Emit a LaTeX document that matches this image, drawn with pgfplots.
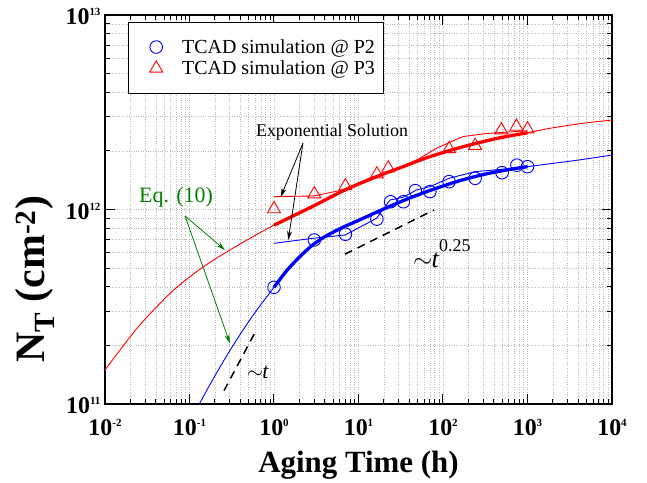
\documentclass[border=0pt]{standalone}
\usepackage{fontspec}
\setmainfont{Liberation Serif}
\usepackage{pgfplots}
\pgfplotsset{compat=1.18}
\usetikzlibrary{arrows.meta}
\definecolor{eqgreen}{rgb}{0,0.5,0}
% bold tick label 10^n in the text font
\newcommand{\tl}[1]{{\fontsize{24}{24}\selectfont\bfseries 10\raisebox{9bp}{\fontsize{11}{11}\selectfont #1}}}

\begin{document}
\begin{tikzpicture}
\useasboundingbox (-105bp,-79bp) rectangle (542bp,404bp);
\begin{axis}[
  at={(0,0)}, anchor=south west,
  scale only axis, width=507bp, height=389bp,
  xmode=log, ymode=log,
  xmin=1e-2, xmax=1e4, ymin=1e11, ymax=1e13,
  xtick={1e-2,1e-1,1e0,1e1,1e2,1e3,1e4},
  xticklabels={\tl{-2},\tl{-1},\tl{0},\tl{1},\tl{2},\tl{3},\tl{4}},
  minor xtick={0.02,0.03,0.04,0.05,0.06,0.07,0.08,0.09,
    0.2,0.3,0.4,0.5,0.6,0.7,0.8,0.9,2,3,4,5,6,7,8,9,
    20,30,40,50,60,70,80,90,200,300,400,500,600,700,800,900,
    2000,3000,4000,5000,6000,7000,8000,9000},
  ytick={1e11,1e12,1e13},
  yticklabels={\tl{11},\tl{12},\tl{13}},
  minor ytick={2e11,3e11,4e11,5e11,6e11,7e11,8e11,9e11,
    2e12,3e12,4e12,5e12,6e12,7e12,8e12,9e12},
  xticklabel style={yshift=-12bp},
  yticklabel style={xshift=-1bp, yshift=-2bp},
  tick align=inside, major tick length=10bp, minor tick length=5bp,
  every tick/.append style={black, line width=1bp},
  axis line style={line width=1.5bp},
  grid=both,
  major grid style={dotted, gray!55, line width=0.7bp},
  minor grid style={dotted, gray!55, line width=0.7bp},
  xlabel={\textbf{Aging Time (h)}},
  xlabel style={font=\fontsize{31}{31}\selectfont, at={(axis description cs:0.5,-0.157)}, anchor=center},
  ylabel={\textbf{N\textsubscript{T} (cm\textsuperscript{-2})}},
  ylabel style={font=\fontsize{42}{42}\selectfont, at={(axis description cs:-0.138,0.32)}, anchor=center},
  legend style={at={(rel axis cs:0.045,0.982)}, anchor=north west, draw=black, line width=0.8bp,
    font=\fontsize{20}{20}\selectfont, inner xsep=6bp, inner ysep=15bp, row sep=2bp,
    cells={anchor=west, inner ysep=0bp, inner xsep=4bp}},
  legend image code/.code={\path[draw=none] (0bp,0bp) -- (46bp,0bp); \draw[#1] plot coordinates {(22bp,0bp)};},
]
% TCAD simulation points
\addplot[only marks, mark=o, mark size=6.3bp, blue, mark options={line width=0.9bp}] coordinates {
  (1,3.98e11) (3,6.97e11) (7,7.46e11) (16.5,8.92e11) (24,1.096e12) (34,1.096e12)
  (47,1.25e12) (70,1.236e12) (118,1.39e12) (240,1.446e12) (500,1.546e12)
  (750,1.69e12) (1000,1.66e12)};
\addlegendentry{TCAD simulation @ P2}
\addplot[only marks, mark=triangle, mark size=7.5bp, red, mark options={line width=0.9bp}] coordinates {
  (1,1.006e12) (3,1.20e12) (7,1.32e12) (16.5,1.52e12) (22.5,1.63e12) (118,2.05e12)
  (240,2.13e12) (490,2.56e12) (740,2.67e12) (1000,2.59e12)};
\addlegendentry{TCAD simulation @ P3}

% Eq. (10), thin
\addplot[red, line width=0.9bp, smooth, forget plot] coordinates {
  (0.01,1.496e11) (0.0248,2.495e11) (0.0615,3.77e11) (0.139,5.0e11) (0.301,6.19e11)
  (0.973,8.26e11) (2.90,1.04e12) (6.92,1.26e12) (16.4,1.475e12) (33.6,1.66e12)
  (70.2,1.87e12) (172,2.10e12) (436,2.32e12) (988,2.48e12) (2000,2.63e12)
  (5000,2.79e12) (10000,2.88e12)};
\addplot[blue, line width=0.9bp, smooth, forget plot] coordinates {
  (0.1306,1e11) (0.2,1.396e11) (0.316,1.95e11) (0.562,2.85e11) (1,3.98e11)
  (1.41,4.84e11) (2,5.69e11) (2.82,6.53e11) (3.98,7.24e11) (6.31,8.04e11)
  (10,8.79e11) (20,1.007e12) (39.8,1.143e12) (79.4,1.276e12) (158,1.406e12)
  (316,1.52e12) (631,1.61e12) (1000,1.66e12) (3981,1.795e12) (10000,1.905e12)};

% exponential solution, thin
\addplot[red, line width=0.9bp, forget plot] coordinates {
  (1,1.164e12) (2.9,1.173e12) (6.56,1.26e12) (14.9,1.475e12) (23.6,1.565e12)
  (49.2,1.80e12) (84.9,2.07e12) (172,2.37e12) (332,2.46e12) (1000,2.54e12)};
\addplot[blue, line width=0.9bp, forget plot] coordinates {
  (1,6.70e11) (2.9,7.11e11) (6.92,7.39e11) (16.4,9.01e11) (23.6,1.119e12)
  (33.6,1.155e12) (48.6,1.26e12) (70.2,1.31e12) (118,1.446e12) (239,1.565e12)
  (432,1.60e12) (1000,1.655e12)};

% fitted, thick
\addplot[red, line width=3.3bp, smooth, forget plot] coordinates {
  (1,8.3e11) (2.9,1.04e12) (6.92,1.26e12) (16.4,1.475e12) (33.6,1.66e12)
  (70.2,1.87e12) (172,2.10e12) (436,2.32e12) (1000,2.48e12)};
\addplot[blue, line width=3.3bp, smooth, forget plot] coordinates {
  (1,3.98e11) (1.41,4.84e11) (2,5.69e11) (2.82,6.53e11) (3.98,7.24e11) (6.31,8.04e11)
  (10,8.79e11) (20,1.007e12) (39.8,1.143e12) (79.4,1.276e12) (158,1.406e12)
  (316,1.52e12) (631,1.61e12) (1000,1.66e12)};

% slope guides
\addplot[black, dash pattern=on 8bp off 6bp, line width=1.5bp, forget plot] coordinates {
  (6.92,5.89e11) (78.2,9.94e11)};
\addplot[black, dash pattern=on 8bp off 6bp, line width=1.5bp, forget plot] coordinates {
  (0.256,1.17e11) (0.612,2.38e11)};

% annotations
\node[font=\fontsize{18}{18}\selectfont] at (axis cs:4.86,2.51e12) {Exponential Solution};
\draw[-{Stealth[length=9bp,width=5bp]}, line width=0.8bp] (axis cs:2.2,2.19e12) -- (axis cs:1.2,1.16e12);
\draw[-{Stealth[length=9bp,width=5bp]}, line width=0.8bp] (axis cs:2.2,2.19e12) -- (axis cs:1.476,6.97e11);
\node[font=\fontsize{22}{22}\selectfont, text=eqgreen] at (axis cs:0.0692,1.16e12) {Eq. (10)};
\draw[eqgreen, -{Stealth[length=9bp,width=5bp]}, line width=0.8bp] (axis cs:0.0886,9.26e11) -- (axis cs:0.263,6.19e11);
\draw[eqgreen, -{Stealth[length=9bp,width=5bp]}, line width=0.8bp] (axis cs:0.0886,9.26e11) -- (axis cs:0.301,2.05e11);
\node[anchor=base west, inner sep=0pt, font=\fontsize{26}{26}\selectfont] at (axis cs:44.2,5.06e11)
  {$\sim$\kern-1pt\textit{t}\raisebox{16bp}{\fontsize{18}{18}\selectfont 0.25}};
\node[anchor=base west, inner sep=0pt, font=\fontsize{22}{22}\selectfont] at (axis cs:0.479,1.36e11)
  {$\sim$\kern-1pt\textit{t}};
\end{axis}
\end{tikzpicture}
\end{document}
